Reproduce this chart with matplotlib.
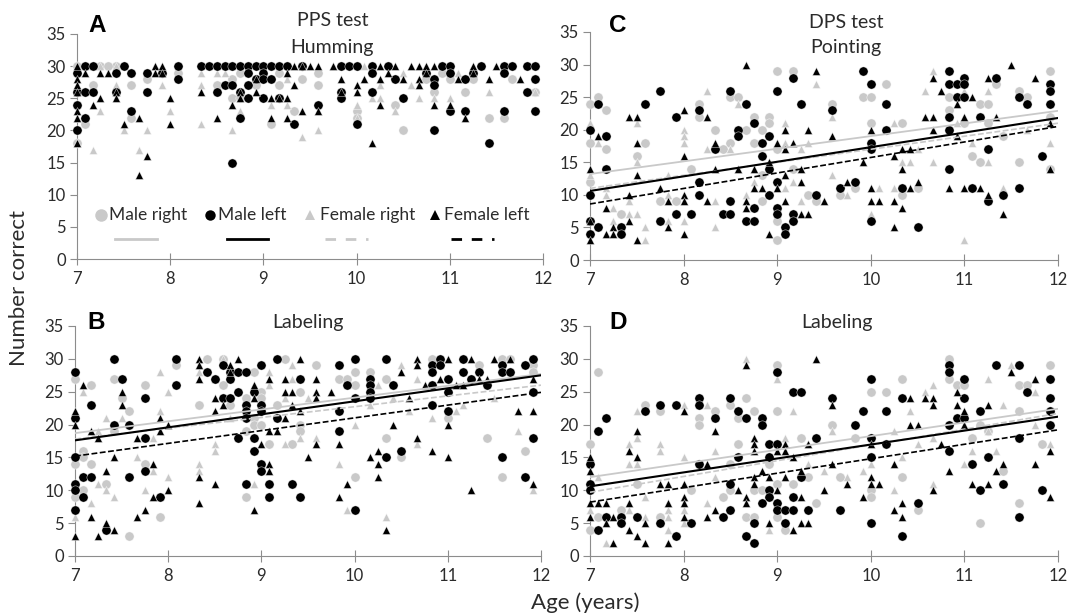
import numpy as np
import matplotlib
matplotlib.use("Agg")
import matplotlib.pyplot as plt
from matplotlib.lines import Line2D

plt.rcParams['font.family'] = ['Lato', 'DejaVu Sans']

# points are (age in months past 7 years, number correct)
a_male_right = [(0,30),(3,30),(5,30),(4,30),(13,29),(21,29),(26,29),(31,29),(47,29),(9,28),(20,28),(29,28),(45,28),(48,28),(51,28),(56,28),
                (2,27),(7,27),(18,27),(23,27),(26,27),(31,27),(0,26),(46,26),(50,26),(59,26),(20,25),(21,25),(0,24),(41,24),(28,23),(36,23),
                (7,22),(36,22),(53,22),(55,22),(1,21),(25,21),(42,20),(0,18)]
a_male_left = [(1,30),(2,30),(6,30),(13,30),(16,30),(17,30),(18,30),(19,30),(20,30),(21,30),(22,30),(23,30),(24,30),(25,30),(26,30),(27,30),(29,30),
               (34,30),(35,30),(36,30),(38,30),(40,30),(47,30),(48,30),(52,30),(55,30),(56,30),(58,30),(59,30),
               (0,29),(5,29),(7,29),(9,29),(11,29),(22,29),(24,29),(38,29),(45,29),(48,29),(51,29),(55,29),
               (13,28),(23,28),(24,28),(25,28),(41,28),(46,28),(50,28),(59,28),(19,27),(20,27),(22,27),(46,27),
               (0,26),(1,26),(2,26),(5,26),(9,26),(18,26),(21,26),(34,26),(38,26),(58,26),(22,25),(24,25),(26,25),(34,25),(42,25),
               (0,24),(31,24),(7,23),(48,23),(50,23),(55,23),(59,23),(1,22),(21,22),(28,21),(36,21),(0,20),(46,20),(53,18),(20,15)]
a_female_right = [(1,30),(2,30),(3,30),(5,30),(33,30),(37,30),(16,29),(18,29),(19,29),(42,29),(49,29),(27,28),(5,27),(11,27),(16,27),(39,27),(43,27),
                  (53,26),(59,26),(38,25),(39,25),(44,25),(46,25),(48,25),(25,24),(27,24),(36,24),(3,23),(12,23),(21,23),(41,23),(0,22),(36,22),
                  (16,21),(6,20),(9,20),(20,20),(31,20),(29,19),(0,18),(2,17),(8,17)]
a_female_left = [(0,30),(10,30),(11,30),(28,30),(29,30),(30,30),(31,30),(33,30),(39,30),(41,30),(43,30),(44,30),(45,30),(46,30),(51,30),(54,30),
                 (1,29),(3,29),(4,29),(10,29),(11,29),(27,29),(40,29),(45,29),(51,29),(0,28),(23,28),(34,28),(37,28),(39,28),(42,28),(44,28),(49,28),(53,28),(57,28),
                 (0,27),(28,27),(36,27),(44,27),(0,26),(5,26),(16,26),(21,26),(23,26),(34,26),(36,26),(3,25),(5,25),(12,25),(21,25),(25,25),(26,25),(27,25),
                 (2,24),(20,24),(39,24),(46,24),(48,24),(0,23),(29,23),(31,23),(0,22),(8,22),(18,22),(25,22),(27,22),(50,22),(6,21),(12,21),(0,18),(38,18),(9,16),(8,13)]

b_male_right = [(17,30),(19,30),(27,30),(46,30),(55,30),(56,30),(13,29),(31,29),(52,29),(59,29),(23,28),(36,28),(38,28),(59,28),(0,27),(5,27),(34,27),(35,27),(40,27),
                (2,26),(9,26),(19,26),(36,26),(24,25),(29,25),(6,24),(22,24),(24,24),(16,23),(20,23),(26,23),(7,22),(23,21),(48,21),(23,20),(24,20),(29,20),
                (5,19),(22,19),(29,19),(40,18),(53,18),(25,17),(28,17),(1,16),(58,16),(1,15),(42,15),(0,14),(2,14),(9,14),(36,12),(55,12),(4,11),(1,10),(0,9),(22,9),(11,6),(7,3)]
b_male_left = [(5,30),(13,30),(26,30),(36,30),(40,30),(47,30),(50,30),(59,30),(19,29),(24,29),(34,29),(46,29),(47,29),(55,29),(58,29),
               (0,28),(17,28),(20,28),(21,28),(22,28),(46,28),(50,28),(52,28),(55,28),(56,28),(6,27),(18,27),(20,27),(29,27),(38,27),(48,27),(51,27),
               (13,26),(35,26),(38,26),(41,26),(46,26),(53,26),(21,25),(23,25),(38,25),(48,25),(59,25),(9,24),(19,24),(20,24),(36,24),(38,24),
               (2,23),(22,23),(24,23),(46,23),(22,22),(24,22),(34,22),(48,22),(0,21),(22,21),(26,21),(5,20),(7,20),(34,19),(9,18),(21,18),(23,18),(59,18),
               (23,16),(42,16),(0,15),(40,15),(55,15),(24,14),(9,13),(24,13),(1,12),(2,12),(7,12),(58,12),(0,11),(22,11),(25,11),(28,11),(0,10),
               (1,9),(11,9),(25,9),(29,9),(0,7),(36,7),(4,4)]
b_female_right = [(19,30),(28,29),(42,29),(11,28),(25,28),(16,28),(18,27),(28,27),(44,27),(25,26),(39,26),(1,25),(12,25),(27,24),(30,24),(41,24),(54,24),(38,23),(50,23),
                  (11,22),(43,22),(49,22),(4,21),(6,21),(20,21),(46,21),(36,20),(3,19),(57,19),(10,18),(29,18),(31,18),(18,17),(27,17),(44,17),(18,16),(8,15),
                  (16,14),(34,14),(10,13),(16,13),(12,12),(3,11),(23,11),(4,10),(9,10),(59,10),(5,9),(2,8),(35,7),(0,6),(40,6)]
b_female_left = [(16,30),(21,30),(29,30),(44,30),(48,30),(51,30),(54,30),(56,30),(16,29),(20,29),(44,29),(20,28),(42,28),(16,27),(25,27),(27,27),(31,27),(47,27),(52,27),(53,27),(59,27),
                 (1,26),(23,26),(45,26),(49,26),(50,26),(6,25),(27,25),(28,25),(31,25),(33,25),(18,24),(23,24),(31,24),(43,24),(6,23),(19,23),(28,23),
                 (0,22),(18,22),(29,22),(57,22),(59,22),(11,21),(27,21),(0,20),(12,20),(41,20),(48,20),(2,19),(11,19),(25,19),(26,19),(3,18),(8,18),(44,18),
                 (24,17),(31,17),(34,17),(39,16),(46,16),(5,15),(30,15),(38,15),(48,15),(10,14),(25,14),(39,14),(4,13),(25,13),(16,12),(39,12),(18,11),(35,11),(59,11),
                 (12,10),(51,10),(10,9),(34,9),(16,8),(9,7),(23,7),(2,6),(8,6),(4,5),(5,4),(40,4),(0,3),(3,3)]

c_male_right = [(24,29),(26,29),(59,29),(38,27),(52,27),(55,26),(1,25),(18,25),(19,25),(35,25),(36,25),(46,25),(56,25),(0,24),(14,24),(31,24),(50,24),(51,24),(2,23),(46,23),
                (14,22),(21,22),(23,22),(59,22),(23,21),(36,21),(40,21),(48,21),(51,21),(16,20),(20,20),(22,20),(46,20),(53,19),(0,18),(7,18),(18,18),(21,18),
                (2,17),(17,17),(24,17),(6,16),(49,16),(50,15),(55,15),(13,14),(26,14),(59,14),(22,13),(0,12),(34,11),(42,11),(28,10),(32,10),(40,10),
                (9,9),(11,9),(22,9),(29,9),(4,7),(24,6),(24,3)]
c_male_left = [(35,29),(46,29),(26,28),(48,28),(52,28),(36,27),(46,27),(47,27),(48,27),(59,27),(9,26),(18,26),(24,26),(59,26),(47,25),(48,25),(55,25),
               (1,24),(7,24),(20,24),(27,24),(38,24),(56,24),(59,24),(14,23),(31,23),(11,22),(46,22),(50,22),(21,21),(0,20),(19,20),(38,20),(46,20),
               (2,19),(19,19),(23,19),(22,18),(36,18),(16,17),(36,17),(51,17),(22,16),(58,16),(2,14),(23,14),(46,14),(14,12),(24,12),(34,12),
               (32,11),(40,11),(49,11),(55,11),(0,10),(14,10),(23,10),(29,10),(53,10),(18,9),(51,9),(21,8),(24,8),(11,7),(13,7),(17,7),(18,7),(24,7),(26,7),
               (0,6),(9,6),(20,6),(21,6),(26,6),(36,6),(1,5),(4,5),(25,5),(42,5),(0,4),(4,4),(25,4)]
c_female_right = [(44,29),(29,27),(15,26),(43,26),(48,26),(51,26),(19,24),(31,22),(52,22),(0,21),(6,21),(25,21),(39,21),(47,21),(12,20),(25,20),(56,20),(12,19),
                  (1,18),(12,18),(25,18),(28,18),(49,18),(59,18),(15,17),(18,17),(27,17),(42,17),(6,15),(40,15),(41,15),(44,15),(51,15),(19,14),(59,14),
                  (0,13),(10,13),(31,13),(21,12),(26,12),(2,11),(25,11),(37,11),(39,11),(53,11),(2,10),(10,10),(20,10),(33,10),(5,9),(16,9),(27,9),(3,8),
                  (5,7),(6,7),(36,7),(3,6),(10,6),(12,6),(7,5),(16,5),(7,3),(48,3)]
c_female_left = [(20,30),(54,30),(29,29),(44,28),(51,28),(57,28),(45,26),(49,25),(47,24),(12,23),(5,22),(6,22),(15,22),(43,22),(44,22),(48,22),(52,22),(59,21),
                 (25,20),(28,20),(36,20),(44,20),(1,19),(31,19),(47,19),(6,18),(16,18),(24,18),(26,18),(25,17),(40,17),(41,17),(12,16),(39,16),(23,15),(35,15),
                 (0,14),(16,14),(19,14),(21,14),(27,14),(40,14),(59,14),(6,13),(25,13),(27,12),(33,12),(42,12),(9,11),(21,11),(22,11),(24,11),(36,11),(41,11),(46,11),(48,11),(50,11),
                 (5,10),(12,10),(51,10),(10,9),(12,9),(15,9),(20,9),(25,9),(30,9),(36,9),(37,9),(39,9),(2,8),(20,8),(40,8),(27,7),(28,7),(53,7),(0,6),(5,6),
                 (3,5),(10,5),(39,5),(2,4),(3,4),(12,4),(23,4),(0,3),(6,3)]

d_male_right = [(46,30),(24,29),(59,29),(1,28),(40,27),(46,27),(47,26),(48,26),(55,26),(56,26),(36,25),(38,25),(20,24),(7,23),(18,23),(9,22),(16,22),(21,22),(24,22),(55,22),
                (14,21),(19,21),(14,20),(31,20),(50,20),(51,19),(27,18),(34,18),(49,18),(0,17),(19,17),(58,17),(18,14),(23,14),(53,13),(28,12),(32,12),(40,12),
                (6,11),(24,11),(26,11),(13,10),(18,10),(21,10),(22,10),(36,10),(17,9),(36,9),(29,8),(55,8),(4,7),(42,7),(1,6),(9,6),(20,6),(21,6),(24,6),(50,5),(0,4),(25,4)]
d_male_left = [(46,29),(52,29),(55,29),(24,28),(46,28),(36,27),(48,27),(59,27),(26,25),(27,25),(56,25),(14,24),(18,24),(31,24),(40,24),(48,24),(59,24),(9,23),(11,23),(14,23),
               (7,22),(19,22),(35,22),(38,22),(50,22),(59,22),(2,21),(16,21),(20,21),(22,21),(47,21),(48,21),(22,20),(34,20),(46,20),(59,20),(1,19),(29,18),(36,18),(55,18),
               (23,17),(24,17),(38,17),(46,16),(19,15),(23,15),(36,15),(51,15),(0,14),(14,14),(49,14),(27,12),(0,11),(18,11),(53,11),(0,10),(23,10),(50,10),(58,10),
               (23,9),(26,9),(22,8),(24,8),(42,8),(18,7),(24,7),(25,7),(26,7),(28,7),(32,7),(2,6),(4,6),(6,6),(17,6),(55,6),(4,5),(9,5),(13,5),(21,5),(25,5),(36,5),(1,4),(11,3),(20,3),(40,3),(21,2)]
d_female_right = [(20,30),(54,29),(24,27),(51,27),(44,26),(43,25),(57,25),(12,23),(15,23),(53,23),(6,22),(26,22),(41,22),(57,20),(31,19),(39,19),(51,19),(6,18),(25,18),(44,18),
                  (5,17),(9,17),(28,17),(42,17),(59,17),(9,16),(16,16),(49,16),(52,16),(12,15),(40,15),(5,14),(6,14),(28,14),(36,14),(48,14),(30,13),(35,13),(1,12),(16,12),(33,12),
                  (44,11),(39,10),(7,9),(10,8),(15,8),(0,7),(5,7),(10,7),(12,7),(7,6),(10,6),(12,5),(10,4),(23,4),(2,2)]
d_female_left = [(29,30),(20,29),(54,28),(57,27),(47,25),(41,24),(43,24),(44,24),(31,23),(44,23),(47,23),(51,23),(12,22),(48,22),(41,20),(42,20),(48,20),(6,19),(16,19),(21,18),
                 (21,17),(25,17),(28,17),(36,17),(45,17),(5,16),(21,16),(24,16),(25,16),(59,16),(0,15),(6,15),(26,15),(15,14),(31,14),(39,14),(53,14),(57,14),
                 (0,13),(22,13),(27,13),(46,13),(52,13),(21,12),(23,12),(25,12),(36,12),(9,11),(10,11),(12,11),(21,11),(33,11),(36,11),(37,11),(49,11),(51,11),
                 (19,10),(24,10),(30,10),(44,10),(12,9),(20,9),(27,9),(35,9),(59,9),(0,8),(1,8),(2,8),(5,8),(10,8),(12,8),(20,8),(40,8),(16,7),(39,7),
                 (0,6),(3,6),(12,6),(15,6),(40,6),(2,5),(7,5),(23,5),(27,5),(28,5),(5,4),(26,4),(6,3),(3,2),(7,2),(10,2)]

# regression line ends, value at age 7 and at age 12
line_ends = [7, 12]
b_lines = {"mr": [18.7, 27.7], "ml": [17.6, 27.5], "fr": [17.8, 26.0], "fl": [15.2, 24.9]}
c_lines = {"mr": [13.2, 22.9], "ml": [10.6, 21.8], "fr": [11.0, 21.0], "fl": [8.6, 20.5]}
d_lines = {"mr": [12.0, 22.4], "ml": [10.6, 21.2], "fr": [9.7, 21.7], "fl": [8.2, 19.2]}

x_ticks = [7, 8, 9, 10, 11, 12]
y_ticks = [0, 5, 10, 15, 20, 25, 30, 35]

W, H = 1067, 615
grey = "#c9c9c9"
black = "#000000"
axis_col = "#8c8c8c"
text_col = "#2b2b2b"
dash = (0, (3.5, 1.5))


def make_axes(left, right, top, bottom):
    ax = fig.add_axes([left / W, 1 - bottom / H, (right - left) / W, (bottom - top) / H])
    ax.set_xlim(7, 12)
    ax.set_ylim(0, 35)
    ax.set_xticks(x_ticks)
    ax.set_yticks(y_ticks)
    ax.spines['top'].set_visible(False)
    ax.spines['right'].set_visible(False)
    ax.spines['left'].set_color(axis_col)
    ax.spines['bottom'].set_color(axis_col)
    ax.tick_params(axis='x', direction='inout', length=9, color=axis_col, labelsize=12, labelcolor=text_col, pad=4)
    ax.tick_params(axis='y', direction='out', length=5, color=axis_col, labelsize=12, labelcolor=text_col, pad=3)
    return ax


def draw_points(ax, male_right, female_right, male_left, female_left):
    styles = [(male_right, 'o', grey, 44), (female_right, '^', grey, 33), (male_left, 'o', black, 44), (female_left, '^', black, 33)]
    for pts, marker, col, size in styles:
        arr = np.array(pts)
        ax.scatter(7 + arr[:, 0] / 12, arr[:, 1], marker=marker, s=size, c=col, linewidths=0.3, edgecolors='white', clip_on=False, zorder=3)


def draw_lines(ax, ends):
    ax.plot(line_ends, ends["mr"], color=grey, lw=1.3, zorder=4)
    ax.plot(line_ends, ends["fr"], color=grey, lw=1.2, ls=dash, zorder=4)
    ax.plot(line_ends, ends["ml"], color=black, lw=1.5, zorder=5)
    ax.plot(line_ends, ends["fl"], color=black, lw=1.2, ls=dash, zorder=5)


fig = plt.figure(figsize=(W / 100, H / 100), dpi=100)

ax_a = make_axes(77, 543, 34, 259)
ax_b = make_axes(75, 541, 326, 556)
ax_c = make_axes(590, 1058, 32, 260)
ax_d = make_axes(590, 1058, 326, 556)

draw_points(ax_a, a_male_right, a_female_right, a_male_left, a_female_left)
draw_points(ax_b, b_male_right, b_female_right, b_male_left, b_female_left)
draw_points(ax_c, c_male_right, c_female_right, c_male_left, c_female_left)
draw_points(ax_d, d_male_right, d_female_right, d_male_left, d_female_left)
draw_lines(ax_b, b_lines)
draw_lines(ax_c, c_lines)
draw_lines(ax_d, d_lines)


def label(x, y, s, size=14, **kw):
    fig.text(x / W, 1 - y / H, s, fontsize=size, color=text_col, ha='center', va='center', **kw)


label(333, 21, "PPS test")
label(332, 48, "Humming")
label(846, 22, "DPS test")
label(846, 48, "Pointing")
label(308, 323, "Labeling")
label(837, 323, "Labeling")
for x, y, s in [(97, 25, "A"), (96, 323, "B"), (618, 25, "C"), (618, 323, "D")]:
    fig.text(x / W, 1 - y / H, s, fontsize=17.5, fontweight='bold', color='black', family='Liberation Sans', ha='center', va='center')
label(19, 288, "Number correct", size=16, rotation=90)
label(585, 603, "Age (years)", size=16)

# legend sits inside panel A
key_y, line_y = 215, 238.5
keys = [("Male right", 101, 109, 115, 157, 'o', grey, '-', 9),
        ("Male left", 210, 218, 227, 268, 'o', black, '-', 7.5),
        ("Female right", 310, 320, 325, 368, '^', grey, dash, 7.5),
        ("Female left", 435, 444, 451, 494, '^', black, dash, 6.5)]
for name, mx, tx, x0, x1, marker, col, ls, ms in keys:
    fig.add_artist(Line2D([mx / W], [1 - key_y / H], marker=marker, color=col, ms=ms, ls='none', mew=0))
    fig.text(tx / W, 1 - key_y / H, name, fontsize=12.5, color=text_col, ha='left', va='center')
    fig.add_artist(Line2D([x0 / W, x1 / W], [1 - line_y / H] * 2, color=col, lw=2, ls=ls if ls == '-' else (0, (3.8, 3.5))))

fig.savefig("out.png", dpi=100)
